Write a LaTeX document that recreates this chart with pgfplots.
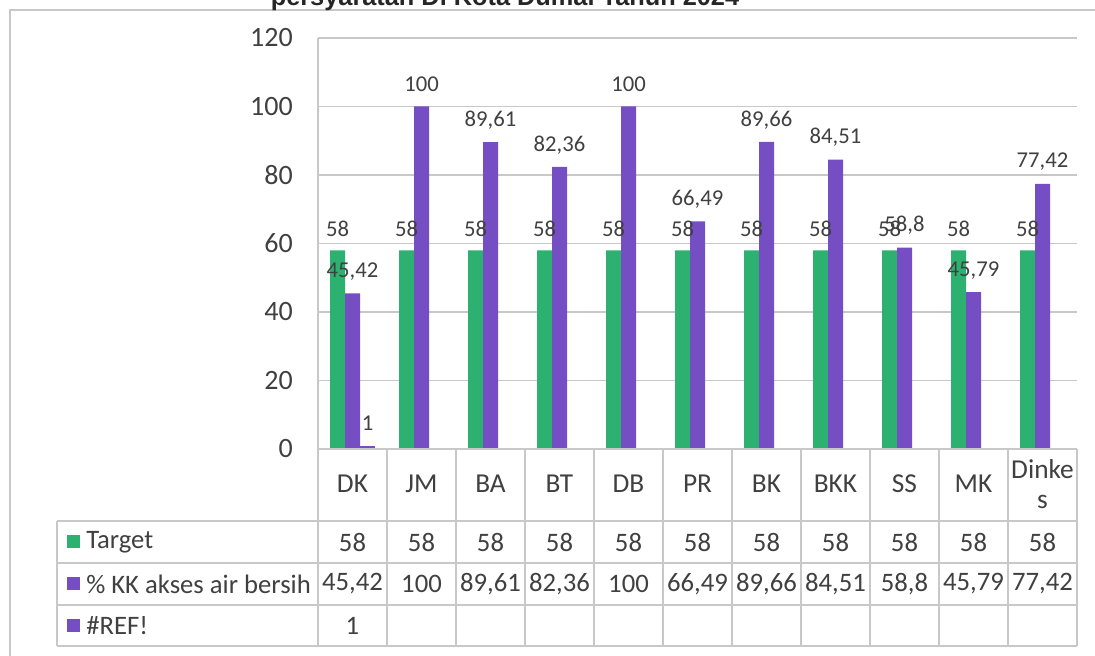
\documentclass[border=0pt]{standalone}
\usepackage{pgfplots}
\pgfplotsset{compat=1.18}
\usepackage{fontspec}
\setmainfont{Carlito}
\newfontfamily\titlefont{Liberation Sans}
\definecolor{cgreen}{RGB}{44,177,112}
\definecolor{cpurple}{RGB}{118,78,196}
\definecolor{txt}{RGB}{64,64,64}
\definecolor{gridc}{RGB}{200,200,200}
\begin{document}
\begin{tikzpicture}[x=0.75pt,y=0.75pt]
\useasboundingbox (0,0) rectangle (1095,656);
% outer frame
\draw[gridc, line width=1pt] (10,0) -- (10,646) -- (1095,646);
% title (cut at top)
\node[anchor=base, inner sep=0pt, font=\titlefont\bfseries\fontsize{19}{22}\selectfont, text=black!85] at (505,650) {persyaratan Di Kota Dumai Tahun 2024};
\begin{axis}[
  at={(238.5pt,155.25pt)}, anchor=south west,
  scale only axis, width=569.25pt, height=308.25pt,
  xmin=-0.5, xmax=10.5, ymin=0, ymax=120,
  ytick={0,20,...,120},
  xtick={0,...,10},
  xticklabels={DK,JM,BA,BT,DB,PR,BK,BKK,SS,MK,{Dinke\\s}},
  major tick length=0pt,
  axis line style={draw=none},
  ymajorgrids, grid style={gridc, line width=1pt},
  /pgf/number format/.cd, use comma, 1000 sep={}, assume math mode=true,
  /pgfplots/.cd,
  yticklabel style={font=\fontsize{21}{24}\selectfont, text=txt, inner sep=0pt, anchor=east, xshift=-18.75pt},
  xticklabel style={font=\fontsize{20.5}{22.5}\selectfont, text=txt, align=center, anchor=center, inner sep=0pt, yshift=-26.25pt},
  ybar=0pt, bar width=11.25pt,
  nodes near coords,
  every node near coord/.append style={font=\fontsize{17}{19}\selectfont, text=txt, anchor=center, inner sep=0pt, yshift=16.5pt},
]
\addplot[fill=cgreen, draw=none] coordinates {(0,58) (1,58) (2,58) (3,58) (4,58) (5,58) (6,58) (7,58) (8,58) (9,58) (10,58)};
\addplot[fill=cpurple, draw=none] coordinates {(0,45.42) (1,100) (2,89.61) (3,82.36) (4,100) (5,66.49) (6,89.66) (7,84.51) (8,58.8) (9,45.79) (10,77.42)};
\addplot[fill=cpurple, draw=none] coordinates {(0,1)};
\end{axis}
% left axis line extending through table
\draw[gridc, line width=1pt] (318,618) -- (318,10);
% table horizontal lines
\foreach \yy in {135,93,51,10} \draw[gridc, line width=1pt] (57,\yy) -- (1077,\yy);
\draw[gridc, line width=1pt] (318,207) -- (1077,207);
\draw[gridc, line width=1pt] (57,135) -- (57,10);
\foreach \k in {0,...,10} \draw[gridc, line width=1pt] ({387+69*\k},207) -- ({387+69*\k},10);
% legend keys
\fill[cgreen] (67,107.5) rectangle (80,120.5);
\fill[cpurple] (67,65.5) rectangle (80,78.5);
\fill[cpurple] (67,23.5) rectangle (80,36.5);
\begin{scope}[every node/.style={font=\fontsize{20}{23}\selectfont, text=txt, inner sep=0pt}]
\node[anchor=west] at (86,114) {Target};
\node[anchor=west] at (86,72) {\% KK akses air bersih};
\node[anchor=west] at (86,30) {\#REF!};
\foreach \v [count=\i from 0] in {58,58,58,58,58,58,58,58,58,58,58}
  \node at ({352.5+69*\i},114) {\v};
\foreach \v [count=\i from 0] in {{45,42},100,{89,61},{82,36},100,{66,49},{89,66},{84,51},{58,8},{45,79},{77,42}}
  \node at ({352.5+69*\i},72) {\v};
\node at (352.5,30) {1};
\end{scope}
\end{tikzpicture}
\end{document}
